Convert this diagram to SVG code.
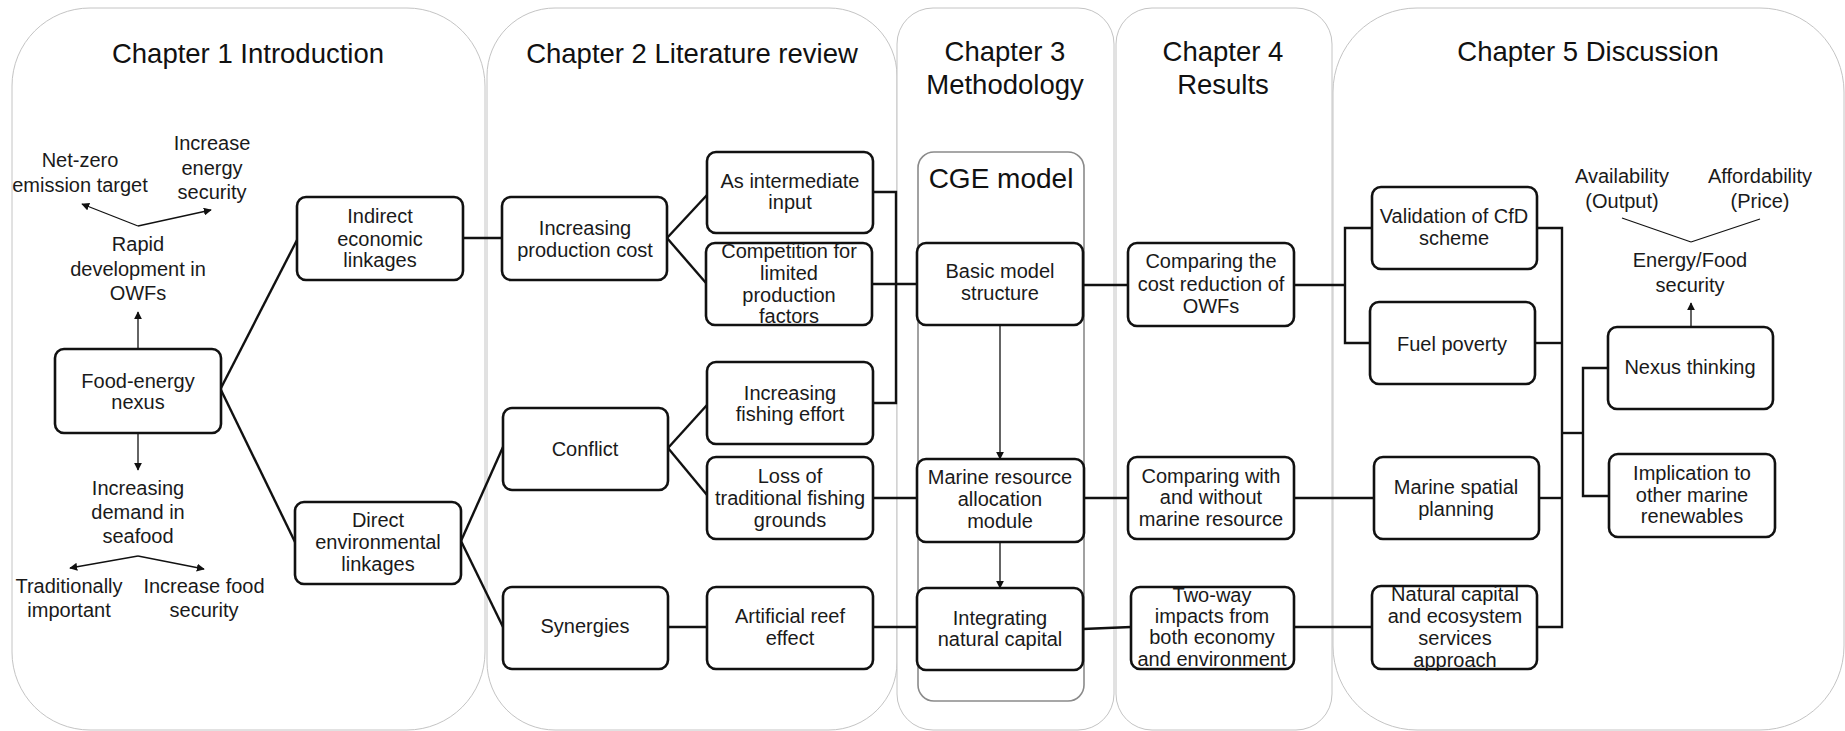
<svg xmlns="http://www.w3.org/2000/svg" width="1845" height="731" viewBox="0 0 1845 731">
  <style>
    .panel { fill: #ffffff; stroke: #c4c4c4; stroke-width: 1; }
    .cge { fill: none; stroke: #8a8a8a; stroke-width: 1.6; }
    .node { fill: #ffffff; stroke: #111111; stroke-width: 2.6; }
    .link { fill: none; stroke: #111111; stroke-width: 2.4; }
    .arrow { fill: none; stroke: #111111; stroke-width: 1.3; }
    .title { font-family: "Liberation Sans", Arial, sans-serif; font-size: 27.5px; fill: #111111; text-anchor: middle; }
    .cge-label { font-family: "Liberation Sans", Arial, sans-serif; font-size: 28px; fill: #111111; text-anchor: middle; }
    .txt { font-family: "Liberation Sans", Arial, sans-serif; font-size: 20px; fill: #1a1a1a; text-anchor: middle; }
  </style>
  <defs>
    <marker id="head" viewBox="0 0 10 10" refX="9" refY="5" markerWidth="8" markerHeight="8" markerUnits="userSpaceOnUse" orient="auto">
      <path d="M0,0 L10,5 L0,10 z" fill="#111111"/>
    </marker>
  </defs>

  <!-- chapter panels -->
  <g id="panels">
    <rect class="panel" x="12" y="8" width="473" height="722" rx="78" ry="78"/>
    <rect class="panel" x="487" y="8" width="410" height="722" rx="68" ry="68"/>
    <rect class="panel" x="897" y="8" width="217" height="722" rx="36" ry="36"/>
    <rect class="panel" x="1116" y="8" width="216" height="722" rx="36" ry="36"/>
    <rect class="panel" x="1333" y="8" width="511" height="722" rx="84" ry="84"/>
  </g>

  <g id="titles">
    <text class="title" x="248" y="63">Chapter 1 Introduction</text>
    <text class="title" x="692" y="63">Chapter 2 Literature review</text>
    <text class="title" x="1005" y="61">Chapter 3<tspan x="1005" y="94">Methodology</tspan></text>
    <text class="title" x="1223" y="61">Chapter 4<tspan x="1223" y="94">Results</tspan></text>
    <text class="title" x="1588" y="61">Chapter 5 Discussion</text>
  </g>

  <!-- CGE model frame -->
  <g id="cge-model">
    <rect class="cge" x="918" y="152" width="166" height="549" rx="16" ry="16"/>
    <text class="cge-label" x="1001" y="188">CGE model</text>
  </g>

  <!-- connectors -->
  <g id="connectors">
    <!-- chapter 1 -->
    <line class="arrow" x1="138" y1="349" x2="138" y2="312" marker-end="url(#head)"/>
    <line class="arrow" x1="138" y1="226" x2="82" y2="204" marker-end="url(#head)"/>
    <line class="arrow" x1="138" y1="226" x2="211" y2="210" marker-end="url(#head)"/>
    <line class="arrow" x1="138" y1="433" x2="138" y2="470" marker-end="url(#head)"/>
    <line class="arrow" x1="138" y1="556" x2="70" y2="568" marker-end="url(#head)"/>
    <line class="arrow" x1="138" y1="556" x2="204" y2="569" marker-end="url(#head)"/>
    <line class="link" x1="221" y1="388" x2="297" y2="240"/>
    <line class="link" x1="221" y1="390" x2="295" y2="542"/>
    <!-- chapter 2 -->
    <line class="link" x1="463" y1="238" x2="502" y2="238"/>
    <line class="link" x1="667" y1="238" x2="707" y2="195"/>
    <line class="link" x1="667" y1="238" x2="706" y2="283"/>
    <line class="link" x1="461" y1="541" x2="503" y2="447"/>
    <line class="link" x1="461" y1="541" x2="503" y2="627"/>
    <line class="link" x1="668" y1="448" x2="707" y2="405"/>
    <line class="link" x1="668" y1="448" x2="707" y2="495"/>
    <line class="link" x1="668" y1="627" x2="707" y2="627"/>
    <polyline class="link" points="873,192 896,192 896,403 873,403"/>
    <line class="link" x1="872" y1="284" x2="917" y2="284"/>
    <line class="link" x1="873" y1="498" x2="917" y2="498"/>
    <line class="link" x1="873" y1="627" x2="917" y2="627"/>
    <!-- chapter 3 -->
    <line class="arrow" x1="1000" y1="325" x2="1000" y2="459" marker-end="url(#head)"/>
    <line class="arrow" x1="1000" y1="542" x2="1000" y2="588" marker-end="url(#head)"/>
    <line class="link" x1="1083" y1="285" x2="1128" y2="285"/>
    <line class="link" x1="1084" y1="498" x2="1128" y2="498"/>
    <line class="link" x1="1083" y1="629" x2="1131" y2="627"/>
    <!-- chapter 4 -->
    <line class="link" x1="1294" y1="285" x2="1345" y2="285"/>
    <polyline class="link" points="1372,228 1345,228 1345,343 1370,343"/>
    <line class="link" x1="1294" y1="498" x2="1374" y2="498"/>
    <line class="link" x1="1294" y1="627" x2="1372" y2="627"/>
    <!-- chapter 5 -->
    <polyline class="link" points="1537,228 1562,228 1562,627 1537,627"/>
    <line class="link" x1="1535" y1="343" x2="1562" y2="343"/>
    <line class="link" x1="1539" y1="498" x2="1562" y2="498"/>
    <line class="link" x1="1562" y1="433" x2="1583" y2="433"/>
    <polyline class="link" points="1608,368 1583,368 1583,496 1610,496"/>
    <line class="arrow" x1="1691" y1="327" x2="1691" y2="303" marker-end="url(#head)"/>
    <line class="arrow" x1="1691" y1="242" x2="1622" y2="218"/>
    <line class="arrow" x1="1691" y1="242" x2="1760" y2="219"/>
  </g>

  <!-- chapter 1 nodes -->
  <g id="food-energy-nexus">
    <rect class="node" x="55" y="349" width="166" height="84" rx="9"/>
    <text class="txt" x="138" y="388">Food-energy<tspan x="138" y="409">nexus</tspan></text>
  </g>
  <g id="rapid-development">
    <text class="txt" x="138" y="251">Rapid<tspan x="138" y="276">development in</tspan><tspan x="138" y="300">OWFs</tspan></text>
  </g>
  <g id="net-zero">
    <text class="txt" x="80" y="167">Net-zero<tspan x="80" y="192">emission target</tspan></text>
  </g>
  <g id="energy-security">
    <text class="txt" x="212" y="150">Increase<tspan x="212" y="175">energy</tspan><tspan x="212" y="199">security</tspan></text>
  </g>
  <g id="seafood-demand">
    <text class="txt" x="138" y="495">Increasing<tspan x="138" y="519">demand in</tspan><tspan x="138" y="543">seafood</tspan></text>
  </g>
  <g id="traditionally-important">
    <text class="txt" x="69" y="593">Traditionally<tspan x="69" y="617">important</tspan></text>
  </g>
  <g id="food-security">
    <text class="txt" x="204" y="593">Increase food<tspan x="204" y="617">security</tspan></text>
  </g>
  <g id="indirect-economic">
    <rect class="node" x="297" y="197" width="166" height="83" rx="9"/>
    <text class="txt" x="380" y="223">Indirect<tspan x="380" y="246">economic</tspan><tspan x="380" y="267">linkages</tspan></text>
  </g>
  <g id="direct-environmental">
    <rect class="node" x="295" y="502" width="166" height="82" rx="9"/>
    <text class="txt" x="378" y="527">Direct<tspan x="378" y="549">environmental</tspan><tspan x="378" y="571">linkages</tspan></text>
  </g>

  <!-- chapter 2 nodes -->
  <g id="production-cost">
    <rect class="node" x="502" y="197" width="165" height="83" rx="9"/>
    <text class="txt" x="585" y="235">Increasing<tspan x="585" y="257">production cost</tspan></text>
  </g>
  <g id="intermediate-input">
    <rect class="node" x="707" y="152" width="166" height="81" rx="9"/>
    <text class="txt" x="790" y="188">As intermediate<tspan x="790" y="209">input</tspan></text>
  </g>
  <g id="competition">
    <rect class="node" x="706" y="243" width="166" height="82" rx="9"/>
    <text class="txt" x="789" y="258">Competition for<tspan x="789" y="280">limited</tspan><tspan x="789" y="302">production</tspan><tspan x="789" y="323">factors</tspan></text>
  </g>
  <g id="conflict">
    <rect class="node" x="503" y="408" width="165" height="82" rx="9"/>
    <text class="txt" x="585" y="456">Conflict</text>
  </g>
  <g id="fishing-effort">
    <rect class="node" x="707" y="362" width="166" height="82" rx="9"/>
    <text class="txt" x="790" y="400">Increasing<tspan x="790" y="421">fishing effort</tspan></text>
  </g>
  <g id="fishing-grounds">
    <rect class="node" x="707" y="457" width="166" height="82" rx="9"/>
    <text class="txt" x="790" y="483">Loss of<tspan x="790" y="505">traditional fishing</tspan><tspan x="790" y="527">grounds</tspan></text>
  </g>
  <g id="synergies">
    <rect class="node" x="503" y="587" width="165" height="82" rx="9"/>
    <text class="txt" x="585" y="633">Synergies</text>
  </g>
  <g id="artificial-reef">
    <rect class="node" x="707" y="587" width="166" height="82" rx="9"/>
    <text class="txt" x="790" y="623">Artificial reef<tspan x="790" y="645">effect</tspan></text>
  </g>

  <!-- chapter 3 nodes -->
  <g id="basic-model">
    <rect class="node" x="917" y="243" width="166" height="82" rx="9"/>
    <text class="txt" x="1000" y="278">Basic model<tspan x="1000" y="300">structure</tspan></text>
  </g>
  <g id="marine-resource-module">
    <rect class="node" x="917" y="459" width="167" height="83" rx="9"/>
    <text class="txt" x="1000" y="484">Marine resource<tspan x="1000" y="506">allocation</tspan><tspan x="1000" y="528">module</tspan></text>
  </g>
  <g id="natural-capital-integration">
    <rect class="node" x="917" y="588" width="166" height="82" rx="9"/>
    <text class="txt" x="1000" y="625">Integrating<tspan x="1000" y="646">natural capital</tspan></text>
  </g>

  <!-- chapter 4 nodes -->
  <g id="cost-reduction">
    <rect class="node" x="1128" y="243" width="166" height="83" rx="9"/>
    <text class="txt" x="1211" y="268">Comparing the<tspan x="1211" y="291">cost reduction of</tspan><tspan x="1211" y="313">OWFs</tspan></text>
  </g>
  <g id="with-without">
    <rect class="node" x="1128" y="457" width="166" height="82" rx="9"/>
    <text class="txt" x="1211" y="483">Comparing with<tspan x="1211" y="504">and without</tspan><tspan x="1211" y="526">marine resource</tspan></text>
  </g>
  <g id="two-way">
    <rect class="node" x="1131" y="587" width="163" height="82" rx="9"/>
    <text class="txt" x="1212" y="602">Two-way<tspan x="1212" y="623">impacts from</tspan><tspan x="1212" y="644">both economy</tspan><tspan x="1212" y="666">and environment</tspan></text>
  </g>

  <!-- chapter 5 nodes -->
  <g id="cfd-scheme">
    <rect class="node" x="1372" y="187" width="165" height="82" rx="9"/>
    <text class="txt" x="1454" y="223">Validation of CfD<tspan x="1454" y="245">scheme</tspan></text>
  </g>
  <g id="fuel-poverty">
    <rect class="node" x="1370" y="302" width="165" height="82" rx="9"/>
    <text class="txt" x="1452" y="351">Fuel poverty</text>
  </g>
  <g id="marine-spatial-planning">
    <rect class="node" x="1374" y="457" width="165" height="82" rx="9"/>
    <text class="txt" x="1456" y="494">Marine spatial<tspan x="1456" y="516">planning</tspan></text>
  </g>
  <g id="ecosystem-services">
    <rect class="node" x="1372" y="586" width="165" height="83" rx="9"/>
    <text class="txt" x="1455" y="601">Natural capital<tspan x="1455" y="623">and ecosystem</tspan><tspan x="1455" y="645">services</tspan><tspan x="1455" y="667">approach</tspan></text>
  </g>
  <g id="nexus-thinking">
    <rect class="node" x="1608" y="327" width="165" height="82" rx="9"/>
    <text class="txt" x="1690" y="374">Nexus thinking</text>
  </g>
  <g id="other-renewables">
    <rect class="node" x="1609" y="454" width="166" height="83" rx="9"/>
    <text class="txt" x="1692" y="480">Implication to<tspan x="1692" y="502">other marine</tspan><tspan x="1692" y="523">renewables</tspan></text>
  </g>
  <g id="energy-food-security">
    <text class="txt" x="1690" y="267">Energy/Food<tspan x="1690" y="292">security</tspan></text>
  </g>
  <g id="availability">
    <text class="txt" x="1622" y="183">Availability<tspan x="1622" y="208">(Output)</tspan></text>
  </g>
  <g id="affordability">
    <text class="txt" x="1760" y="183">Affordability<tspan x="1760" y="208">(Price)</tspan></text>
  </g>
</svg>
